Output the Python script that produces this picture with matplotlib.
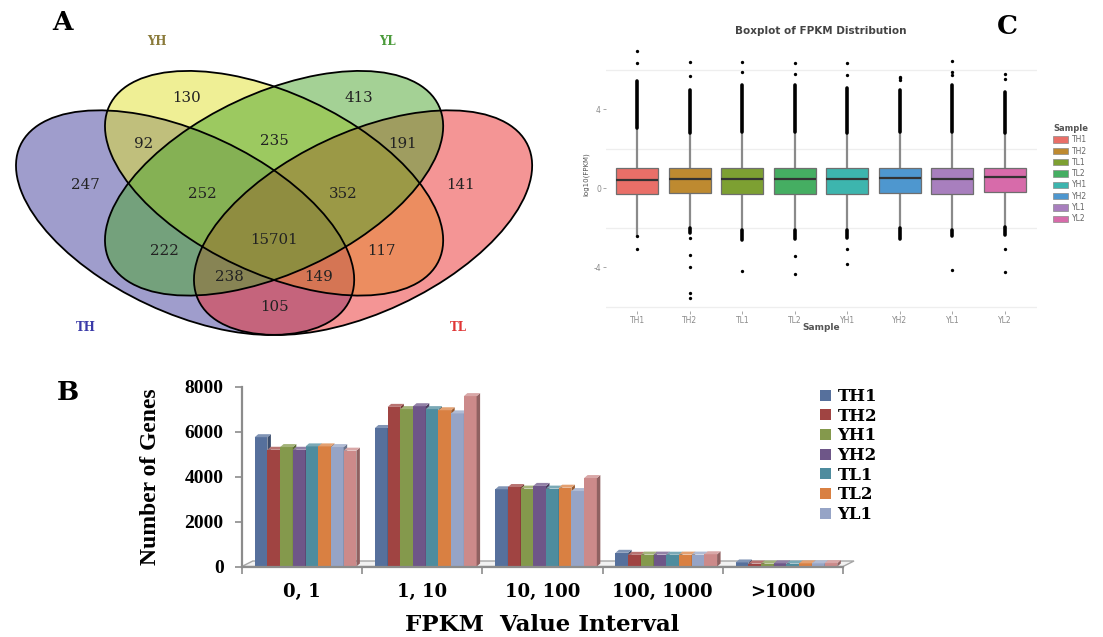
import numpy as np
import matplotlib.pyplot as plt
from matplotlib.patches import Ellipse, Polygon, Patch
import matplotlib.colors as mcolors

plt.rcParams['axes.unicode_minus'] = False

# ---- Venn counts (panel A) ----
venn_sets = ["TH", "YH", "YL", "TL"]
venn_regions = ["YH", "YL", "TH&YH", "YH&YL", "YL&TL", "TH", "TH&YH&YL", "YH&YL&TL",
                "TL", "TH&YH&YL&TL", "TH&YL", "YH&TL", "TH&YL&TL", "TH&YH&TL", "TH&TL"]
venn_counts = [130, 413, 92, 235, 191, 247, 252, 352, 141, 15701, 222, 117, 238, 149, 105]

# ---- genes per FPKM interval (panel B) ----
fpkm_bins = ["0, 1", "1, 10", "10, 100", "100, 1000", ">1000"]
bar_samples = ["TH1", "TH2", "YH1", "YH2", "TL1", "TL2", "YL1", "YL2"]
TH1 = [5760, 6170, 3440, 610, 180]
TH2 = [5200, 7110, 3540, 520, 130]
YH1 = [5320, 7010, 3470, 530, 130]
YH2 = [5200, 7140, 3590, 530, 140]
TL1 = [5350, 7010, 3470, 525, 130]
TL2 = [5350, 6960, 3510, 530, 140]
YL1 = [5320, 6820, 3360, 530, 140]
YL2 = [5160, 7590, 3940, 545, 150]
bar_counts = [TH1, TH2, YH1, YH2, TL1, TL2, YL1, YL2]
legend_samples = bar_samples[:7]

# ---- log10(FPKM) box statistics (panel C) ----
box_samples = ["TH1", "TH2", "TL1", "TL2", "YH1", "YH2", "YL1", "YL2"]
box_q1 = [-0.30, -0.22, -0.29, -0.29, -0.27, -0.22, -0.30, -0.19]
box_med = [0.42, 0.49, 0.46, 0.46, 0.46, 0.51, 0.46, 0.56]
box_q3 = [1.05, 1.05, 1.01, 1.01, 1.01, 1.01, 1.01, 1.03]
box_whislo = [-2.41, -2.03, -2.11, -2.11, -2.11, -2.03, -2.11, -1.94]
box_whishi = [3.04, 2.78, 2.87, 2.87, 2.78, 2.87, 2.87, 2.78]
# dense runs of outliers (low, high)
upper_runs = [(3.04, 5.43), (2.78, 4.98), (2.87, 5.23), (2.87, 5.23),
              (2.78, 5.06), (2.87, 4.98), (2.87, 5.23), (2.78, 4.89)]
lower_runs = [None, (-2.03, -2.28), (-2.11, -2.62), (-2.11, -2.57),
              (-2.11, -2.53), (-2.03, -2.57), (-2.11, -2.41), (-1.94, -2.36)]
# isolated outliers
box_fliers = [
    [6.33, 6.97, -2.41, -3.09],
    [5.70, 6.38, -2.53, -3.38, -3.98, -5.32, -5.57],
    [5.91, 6.41, -4.17],
    [5.79, 6.36, -3.43, -4.34],
    [5.74, 6.33, -3.05, -3.85],
    [5.50, 5.65, 5.60],
    [5.74, 5.87, 6.43, -4.13],
    [5.55, 5.79, -3.09, -4.25],
]

W, H = 1103, 637
fig = plt.figure(figsize=(W / 100, H / 100), dpi=100)
fig.patch.set_facecolor("white")


def px_rect(left, top, right, bottom):
    return [left / W, 1 - bottom / H, (right - left) / W, (bottom - top) / H]


def shade(color, k):
    r, g, b = mcolors.to_rgb(color)
    if k < 1:
        return (r * k, g * k, b * k)
    t = k - 1
    return (r + (1 - r) * t, g + (1 - g) * t, b + (1 - b) * t)


# ================= A: Venn diagram =================
axA = fig.add_axes(px_rect(0, 0, 560, 360))
axA.set_xlim(0.038, 0.982)
axA.set_ylim(0.1215, 1.035)
axA.axis("off")

ellipse_geom = {"TH": ((0.35, 0.47), -45), "YH": ((0.5, 0.57), -45),
                "YL": ((0.5, 0.57), 45), "TL": ((0.65, 0.47), 45)}
ellipse_fill = {"TH": "#413D9B", "YH": "#E1E12D", "YL": "#4BA52D", "TL": "#EB2D2D"}
fill_order = ["TH", "YH", "TL", "YL"]
set_label_color = {"TH": "#3A3AA8", "YH": "#8A7A3A", "YL": "#4A9A3A", "TL": "#E03535"}
set_label_pos = {"TH": (0.182, 0.203), "YH": (0.303, 0.929),
                 "YL": (0.691, 0.929), "TL": (0.811, 0.203)}
region_pos = [(0.353, 0.787), (0.643, 0.787), (0.280, 0.670), (0.5, 0.678), (0.716, 0.670),
              (0.182, 0.566), (0.379, 0.543), (0.617, 0.543), (0.815, 0.566), (0.5, 0.426),
              (0.316, 0.398), (0.681, 0.398), (0.425, 0.332), (0.575, 0.332), (0.5, 0.256)]

for name in fill_order:
    (cx, cy), ang = ellipse_geom[name]
    axA.add_patch(Ellipse((cx, cy), 0.7, 0.4, angle=ang, facecolor=ellipse_fill[name],
                          alpha=0.5, edgecolor="none"))
for name in venn_sets:
    (cx, cy), ang = ellipse_geom[name]
    axA.add_patch(Ellipse((cx, cy), 0.7, 0.4, angle=ang, fill=False,
                          edgecolor="black", lw=1.3))
    axA.text(*set_label_pos[name], name, color=set_label_color[name], ha="center",
             va="center", fontsize=8.5, fontweight="bold", family="DejaVu Serif")

for (px, py), n in zip(region_pos, venn_counts):
    axA.text(px, py, str(n), ha="center", va="center", fontsize=10.8,
             family="DejaVu Serif", color="#222222")

# ================= B: 3D-style clustered columns =================
axB = fig.add_axes(px_rect(241.8, 386.9, 843, 566.5))
axB.set_xlim(-0.5, 4.5)
axB.set_ylim(0, 8000)
axB.patch.set_alpha(0)

bar_colors = ["#56709C", "#A04442", "#84994C", "#6E5688", "#4E8C9E", "#D98042", "#96A4C6", "#CC8A8A"]
x = np.arange(len(fpkm_bins))
bar_w = 0.1057
shift = 0.03
ddx, ddy = 3.5 / 120.2, 3 * 8000 / 179.6
fdx, fdy = 11 / 120.2, 5.5 * 8000 / 179.6

axB.add_patch(Polygon([(-0.5, 0), (4.5, 0), (4.5 + fdx, fdy), (-0.5 + fdx, fdy)],
                      closed=True, facecolor="#F2F2F2", edgecolor="#A6A6A6", lw=1.0,
                      zorder=1, clip_on=False))

for i, (name, vals) in enumerate(zip(bar_samples, bar_counts)):
    xs = x + shift + (i - 3.5) * bar_w
    axB.bar(xs, vals, width=bar_w, color=bar_colors[i], edgecolor="none",
            zorder=3, label=name)
    for xc, v in zip(xs, vals):
        x0, x1 = xc - bar_w / 2, xc + bar_w / 2
        axB.add_patch(Polygon([(x1, 0), (x1 + ddx, ddy), (x1 + ddx, v + ddy), (x1, v)],
                              closed=True, facecolor=shade(bar_colors[i], 0.7),
                              edgecolor="none", zorder=3, clip_on=False))
        axB.add_patch(Polygon([(x0, v), (x0 + ddx, v + ddy), (x1 + ddx, v + ddy), (x1, v)],
                              closed=True, facecolor=shade(bar_colors[i], 1.25),
                              edgecolor="none", zorder=3, clip_on=False))

for side in ["top", "right"]:
    axB.spines[side].set_visible(False)
for side in ["left", "bottom"]:
    axB.spines[side].set_color("#8C8C8C")
    axB.spines[side].set_linewidth(1.6)
    axB.spines[side].set_zorder(4)

axB.set_yticks([0, 2000, 4000, 6000, 8000])
axB.tick_params(axis="y", length=5, width=1.2, color="#8C8C8C", pad=8)
for lab in axB.get_yticklabels():
    lab.set_fontfamily("Liberation Serif")
    lab.set_fontweight("bold")
    lab.set_fontsize(14)

axB.set_xticks(x)
axB.set_xticklabels(fpkm_bins, fontfamily="DejaVu Serif", fontweight="bold", fontsize=13)
axB.set_xticks(np.arange(-0.5, 5, 1), minor=True)
axB.tick_params(axis="x", which="major", length=0, pad=12)
axB.tick_params(axis="x", which="minor", length=5, width=1.2, color="#8C8C8C")

axB.set_ylabel("Number of Genes", fontfamily="Liberation Serif", fontweight="bold",
               fontsize=17, labelpad=17)
axB.set_xlabel("FPKM  Value Interval", fontfamily="DejaVu Serif", fontweight="bold",
               fontsize=16.5, labelpad=9)

handles, labels = axB.get_legend_handles_labels()
fig.legend(handles[:7], legend_samples, loc="upper left",
           bbox_to_anchor=(820 / W, 1 - 388 / H), frameon=False,
           prop={"family": "DejaVu Serif", "weight": "bold", "size": 12},
           handlelength=0.65, handleheight=0.65, handletextpad=0.4,
           labelspacing=0.16, borderpad=0, borderaxespad=0)

# ================= C: FPKM boxplots =================
box_colors = ["#E96F68", "#BE8A30", "#7DA032", "#45AE62", "#3DB5AE", "#4E97CF", "#A87FBE", "#D76BAA"]
axC = fig.add_axes(px_rect(605.8, 38.2, 1036.5, 310.8))
axC.set_xlim(0.4, 8.6)
axC.set_ylim(-6.2, 7.6)

stats = []
for i, name in enumerate(box_samples):
    stats.append(dict(label=name, med=box_med[i], q1=box_q1[i], q3=box_q3[i],
                      whislo=box_whislo[i], whishi=box_whishi[i], fliers=box_fliers[i]))
pos = np.arange(1, len(box_samples) + 1)

axC.set_yticks([-6, -2, 2, 6], minor=True)
axC.grid(True, which="minor", axis="y", color="#EEEEEE", lw=0.9, zorder=0)
axC.grid(False, which="major")

bp = axC.bxp(stats, positions=pos, widths=0.8, patch_artist=True, showcaps=False,
             boxprops=dict(edgecolor="#6E6E6E", lw=0.9),
             medianprops=dict(color="#333333", lw=1.6),
             whiskerprops=dict(color="#8A8A8A", lw=1.6),
             flierprops=dict(marker="o", markersize=2.4, markerfacecolor="black",
                             markeredgecolor="none"),
             zorder=2)
for patch, c in zip(bp["boxes"], box_colors):
    patch.set_facecolor(c)
    patch.set_zorder(3)
for med in bp["medians"]:
    med.set_zorder(4)

up_lo = [r[0] for r in upper_runs]
up_hi = [r[1] for r in upper_runs]
axC.vlines(pos, up_lo, up_hi, colors="black", lw=2.6, zorder=3, capstyle="round")
lo_pos = [p for p, r in zip(pos, lower_runs) if r is not None]
lo_a = [r[0] for r in lower_runs if r is not None]
lo_b = [r[1] for r in lower_runs if r is not None]
axC.vlines(lo_pos, lo_a, lo_b, colors="black", lw=2.6, zorder=3, capstyle="round")

for s in axC.spines.values():
    s.set_visible(False)
axC.set_yticks([-4, 0, 4])
axC.set_xticks(pos)
axC.set_xticklabels(box_samples)
axC.tick_params(axis="both", which="major", length=2, width=0.6, color="#999999",
                labelsize=5.5, labelcolor="#8A8A8A", pad=1.5)
axC.tick_params(axis="y", which="minor", length=0)
axC.set_title("Boxplot of FPKM Distribution", fontsize=7.5, fontweight="bold",
              color="#444444", pad=3, family="DejaVu Sans")
axC.set_xlabel("Sample", fontsize=6.5, fontweight="bold", color="#555555", labelpad=-1)
axC.set_ylabel("log10(FPKM)", fontsize=5, color="#555555", labelpad=3)

leg_handles = [Patch(facecolor=c, edgecolor="#8A8A8A", lw=0.5) for c in box_colors]
legC = fig.legend(leg_handles, box_samples, title="Sample", loc="upper left",
                  bbox_to_anchor=(1053 / W, 1 - 124 / H), frameon=False, fontsize=5.5,
                  title_fontsize=6, handlelength=2.0, handleheight=0.9,
                  labelspacing=0.3, handletextpad=0.5, borderpad=0, borderaxespad=0,
                  alignment="left")
legC.get_title().set_fontweight("bold")
legC.get_title().set_color("#555555")
for t in legC.get_texts():
    t.set_color("#666666")

# ---- panel letters ----
for letter, (lx, ly) in {"A": (62.5, 22.7), "B": (68, 392), "C": (1007, 27)}.items():
    fig.text(lx / W, 1 - ly / H, letter, ha="center", va="center", fontsize=19,
             fontweight="bold", family="DejaVu Serif")

fig.savefig("out.png", dpi=100, facecolor="white")
